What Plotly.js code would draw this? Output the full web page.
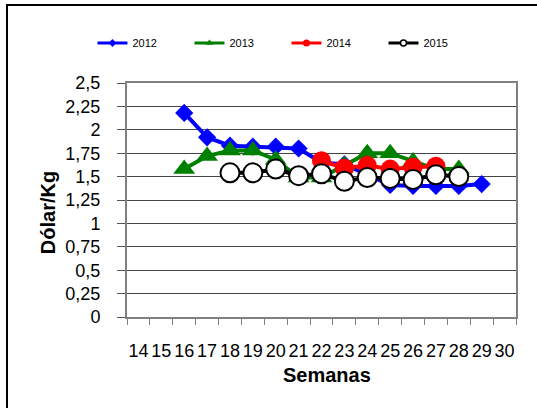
<!DOCTYPE html>
<html>
<head>
<meta charset="utf-8">
<script src="https://cdn.plot.ly/plotly-3.0.1.min.js"></script>
<style>
  html, body { margin: 0; padding: 0; background: #fff; }
  #chart { width: 537px; height: 408px; position: relative; }
  #frame { position: absolute; left: 6px; top: 4px; width: 560px; height: 430px;
           border-left: 2px solid #000; border-top: 2px solid #000; pointer-events: none; }
</style>
</head>
<body>
<div id="chart"></div>
<div id="frame"></div>
<script>
// Categories (weeks)
const weeks = ['14','15','16','17','18','19','20','21','22','23','24','25','26','27','28','29','30'];

// 2012
const weeks2012 = ['16','17','18','19','20','21','22','23','24','25','26','27','28','29'];
const price2012 = [2.18, 1.92, 1.83, 1.82, 1.82, 1.80, 1.65, 1.63, 1.52, 1.41, 1.40, 1.40, 1.40, 1.42];

// 2013
const weeks2013 = ['16','17','18','19','20','21','22','23','24','25','26','27','28'];
const price2013 = [1.58, 1.72, 1.78, 1.78, 1.68, 1.49, 1.49, 1.62, 1.75, 1.75, 1.66, 1.58, 1.58];

// 2014
const weeks2014 = ['22','23','24','25','26','27'];
const price2014 = [1.67, 1.59, 1.62, 1.58, 1.60, 1.61];

// 2015
const weeks2015 = ['18','19','20','21','22','23','24','25','26','27','28'];
const price2015 = [1.54, 1.54, 1.58, 1.51, 1.53, 1.45, 1.49, 1.48, 1.47, 1.52, 1.50];

const seriesNames = ['2012', '2013', '2014', '2015'];

const FONT = 'Arial, "Liberation Sans", sans-serif';

const traces = [
  { x: weeks2012, y: price2012, mode: 'lines+markers', showlegend: false,
    line: { color: '#0000ff', width: 4 },
    marker: { symbol: 'diamond', size: 14, color: '#0000ff' } },
  { x: weeks2013, y: price2013, mode: 'lines+markers', showlegend: false,
    line: { color: '#008000', width: 4 },
    marker: { symbol: 'triangle-up', size: 19, color: '#008000' } },
  { x: weeks2014, y: price2014, mode: 'lines+markers', showlegend: false,
    line: { color: '#ff0000', width: 4 },
    marker: { symbol: 'circle', size: 19, color: '#ff0000' } },
  { x: weeks2015, y: price2015, mode: 'lines+markers', showlegend: false,
    line: { color: '#000000', width: 4 },
    marker: { symbol: 'circle', size: 19, color: '#ffffff', line: { color: '#000', width: 2 } } },
  // legend entries with small markers
  { x: [null], y: [null], name: seriesNames[0], mode: 'lines+markers',
    line: { color: '#0000ff', width: 3 }, marker: { symbol: 'diamond', size: 6, color: '#0000ff' } },
  { x: [null], y: [null], name: seriesNames[1], mode: 'lines+markers',
    line: { color: '#008000', width: 3 }, marker: { symbol: 'triangle-up', size: 7, color: '#008000' } },
  { x: [null], y: [null], name: seriesNames[2], mode: 'lines+markers',
    line: { color: '#ff0000', width: 3 }, marker: { symbol: 'circle', size: 7, color: '#ff0000' } },
  { x: [null], y: [null], name: seriesNames[3], mode: 'lines+markers',
    line: { color: '#000000', width: 3 }, marker: { symbol: 'circle', size: 6, color: '#ffffff', line: { color: '#000', width: 1.5 } } }
];

const layout = {
  width: 537, height: 408,
  margin: { l: 127, r: 21, t: 83, b: 91, pad: 0 },
  paper_bgcolor: '#ffffff', plot_bgcolor: '#ffffff',
  separators: ', ',
  font: { family: FONT, color: '#000', size: 18 },
  showlegend: true,
  legend: {
    orientation: 'h', x: 0.41, xanchor: 'center', y: 1.171, yanchor: 'middle',
    font: { family: FONT, size: 11, color: '#000' },
    entrywidth: 52, traceorder: 'normal', bgcolor: 'rgba(0,0,0,0)'
  },
  xaxis: {
    type: 'category', categoryorder: 'array', categoryarray: weeks,
    range: [-0.5, 16.5], tickvals: weeks, ticktext: weeks, tickangle: 0,
    showgrid: false, zeroline: false,
    showline: true, linecolor: '#808080', linewidth: 2, mirror: true,
    ticks: 'outside', tickson: 'boundaries', ticklen: 6, tickcolor: '#808080', tickwidth: 1,
    tickfont: { family: FONT, size: 18, color: '#000' },
    ticklabelstandoff: 16, fixedrange: true
  },
  yaxis: {
    range: [0, 2.5], dtick: 0.25, tick0: 0,
    showgrid: true, gridcolor: '#444', gridwidth: 1, zeroline: false,
    showline: true, linecolor: '#808080', linewidth: 2, mirror: true,
    ticks: 'outside', ticklen: 8, tickcolor: '#555', tickwidth: 1,
    tickfont: { family: FONT, size: 18, color: '#000' },
    ticklabelstandoff: 13, fixedrange: true
  },
  annotations: [
    { text: '<b>Semanas</b>', xref: 'paper', yref: 'paper', x: 0.515, y: -0.246,
      xanchor: 'center', yanchor: 'middle', showarrow: false,
      font: { family: FONT, size: 20, color: '#000' } },
    { text: '<b>Dólar/Kg</b>', xref: 'paper', yref: 'paper', x: -0.203, y: 0.444,
      xanchor: 'center', yanchor: 'middle', showarrow: false, textangle: -90,
      font: { family: FONT, size: 20, color: '#000' } }
  ]
};

Plotly.newPlot('chart', traces, layout, { displayModeBar: false, staticPlot: true });
</script>
</body>
</html>
